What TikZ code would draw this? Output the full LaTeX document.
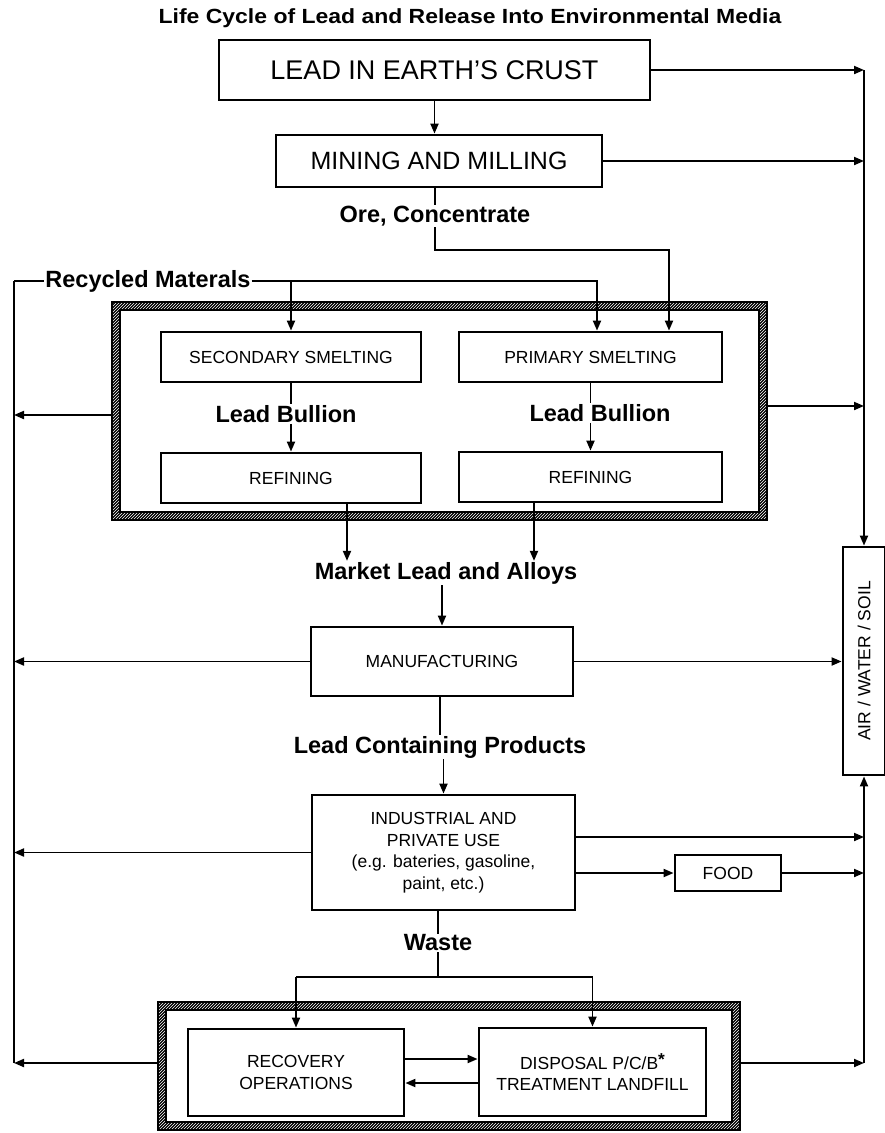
\documentclass[tikz,border=0pt]{standalone}
\usepackage{fontspec}
\setmainfont{Liberation Sans}
\usetikzlibrary{arrows.meta,positioning,patterns,calc}

\begin{document}
\begin{tikzpicture}[x=1pt,y=-1pt,
      box/.style={draw, line width=2.8pt, inner sep=0pt, align=center,
        font=\fontsize{17.5}{21.5}\selectfont},
      bigbox/.style={box, font=\fontsize{27}{31}\selectfont},
      lbl/.style={inner sep=1pt, font=\bfseries\fontsize{23.5}{28}\selectfont},
      frame/.style={inner sep=0pt},
      flow/.style={line width=1.9pt},
      >={Triangle[length=10pt,width=8pt]}]
    \useasboundingbox (0,0) rectangle (885,1133);
    \node[font=\bfseries\fontsize{20.5}{24}\selectfont\addfontfeature{FakeStretch=1.12}] (title) at (470,18)
      {Life Cycle of Lead and Release Into Environmental Media};
    % boxes
    \node[bigbox, minimum width=431pt, minimum height=60pt] (crust) at (434.5,70) {LEAD IN EARTH'S CRUST};
    \node[box, font=\fontsize{25}{29}\selectfont, minimum width=326pt, minimum height=52pt] (mining) at (439,161) {MINING AND MILLING};
    \node[frame, minimum width=655pt, minimum height=218pt] (smeltbox) at (439.5,411) {};
    \node[box, minimum width=260pt, minimum height=50pt] (sec) at (291,357) {SECONDARY SMELTING};
    \node[box, minimum width=263pt, minimum height=50pt] (prim) at (590.5,357) {PRIMARY SMELTING};
    \node[box, minimum width=260pt, minimum height=50pt] (ref1) at (291,478) {REFINING};
    \node[box, minimum width=263pt, minimum height=50pt] (ref2) at (590.5,477) {REFINING};
    \node[box, minimum width=262pt, minimum height=69pt] (manu) at (442,661.5) {MANUFACTURING};
    \node[box, minimum width=263pt, minimum height=115pt] (indus) at (443.5,852.5)
      {INDUSTRIAL AND\\PRIVATE USE\\(e.g. bateries, gasoline,\\paint, etc.)};
    \node[box, minimum width=106pt, minimum height=36pt] (food) at (728,873) {FOOD};
    \node[frame, minimum width=582pt, minimum height=128pt] (endbox) at (449,1066) {};
    \node[box, minimum width=216pt, minimum height=87pt] (recov) at (296,1072.5) {RECOVERY\\OPERATIONS};
    \node[box, minimum width=227pt, minimum height=88pt] (disp) at (592.5,1072)
      {DISPOSAL P/C/B\raisebox{0.4ex}{\bfseries\LARGE *}\\TREATMENT LANDFILL};
    \node[box, minimum width=228pt, minimum height=42pt, rotate=90] (air) at (864,661) {AIR / WATER / SOIL};
    % labels
    \node[lbl] (ore) at (435,216) {Ore, Concentrate};
    \node[lbl] (recyc) at (148,281) {Recycled Materals};
    \node[lbl] (bull1) at (286,414) {Lead Bullion};
    \node[lbl] (bull2) at (600,413) {Lead Bullion};
    \node[lbl] (market) at (446,573) {Market Lead and Alloys};
    \node[lbl] (prod) at (440,747) {Lead Containing Products};
    \node[lbl] (waste) at (438,943) {Waste};
    % hatched frames
    \foreach \f in {smeltbox,endbox}{
      \fill[even odd rule]
        (\f.north west) rectangle (\f.south east)
        ([shift={(8,8)}]\f.north west) rectangle ([shift={(-8,-8)}]\f.south east);
      \fill[pattern=north east lines, pattern color=white, even odd rule]
        (\f.north west) rectangle (\f.south east)
        ([shift={(8,8)}]\f.north west) rectangle ([shift={(-8,-8)}]\f.south east);
      \draw[line width=2pt] (\f.north west) rectangle (\f.south east)
        ([shift={(8,8)}]\f.north west) rectangle ([shift={(-8,-8)}]\f.south east);
    }
    % side collectors
    \coordinate (ltop) at (14,281);
    \coordinate (lbot) at (14,1063);
    \coordinate (rtop) at (864,70);
    \coordinate (rbot) at (864,1063);
    \draw[flow] (ltop) -- (lbot);
    \draw[flow,->] (rtop) -- (air.east);
    \draw[flow,->] (rbot) -- (air.west);
    % main chain
    \draw[flow,->] (crust.south) -- (crust.south |- mining.north);
    \draw[flow] (ore.north |- mining.south) -- (ore.north);
    \draw[flow,->] (ore.south) -- ++(0,23) -| ([xshift=78.5pt]prim.north);
    \draw[flow] (ltop) -- (recyc.west);
    \draw[flow,->] (recyc.east) -| ([xshift=6.5pt]prim.north);
    \draw[flow,->] (recyc.east -| sec.north) -- (sec.north);
    \foreach \s/\b/\r in {sec/bull1/ref1, prim/bull2/ref2}{
      \draw[flow] (\s.south) -- (\s.south |- \b.north);
      \draw[flow,->] (\s.south |- \b.south) -- (\r.north);
    }
    \draw[flow,->] ([xshift=56pt]ref1.south) -- ([xshift=56pt]ref1.south |- market.north);
    \draw[flow,->] ([xshift=-56.5pt]ref2.south) -- ([xshift=-56.5pt]ref2.south |- market.north);
    \draw[flow,->] (market.south -| manu.north) -- (manu.north);
    \draw[flow] (prod.north |- manu.south) -- (prod.north);
    \draw[flow,->] (prod.south -| indus.north) -- (indus.north);
    \draw[flow] (waste.north |- indus.south) -- (waste.north);
    \draw[flow] (waste.south) -- ++(0,25) coordinate (split);
    \draw[flow] (recov.north |- split) -- (disp.north |- split);
    \draw[flow,->] (recov.north |- split) -- (recov.north);
    \draw[flow,->] (disp.north |- split) -- (disp.north);
    \draw[flow,->] ([yshift=13.5pt]recov.east) -- ([yshift=13.5pt]recov.east -| disp.west);
    \draw[flow,->] ([yshift=-11pt]disp.west) -- ([yshift=-11pt]disp.west -| recov.east);
    % releases to the left
    \draw[flow,->] ([yshift=-4pt]smeltbox.west) -- ([yshift=-4pt]smeltbox.west -| ltop);
    \draw[flow,->] (manu.west) -- (manu.west -| ltop);
    \draw[flow,->] (indus.west) -- (indus.west -| ltop);
    \draw[flow,->] (endbox.west |- lbot) -- (lbot);
    % releases to the right
    \draw[flow,->] (crust.east) -- (crust.east -| rtop);
    \draw[flow,->] (mining.east) -- (mining.east -| rtop);
    \draw[flow,->] ([yshift=5pt]smeltbox.east) -- ([yshift=5pt]smeltbox.east -| rtop);
    \draw[flow,->] (manu.east) -- (manu.east -| air.north);
    \draw[flow,->] ([yshift=15.5pt]indus.east) -- ([yshift=15.5pt]indus.east -| rtop);
    \draw[flow,->] (indus.east |- food.west) -- (food.west);
    \draw[flow,->] (food.east) -- (food.east -| rtop);
    \draw[flow,->] (endbox.east |- rbot) -- (rbot);
  \end{tikzpicture}
\end{document}
